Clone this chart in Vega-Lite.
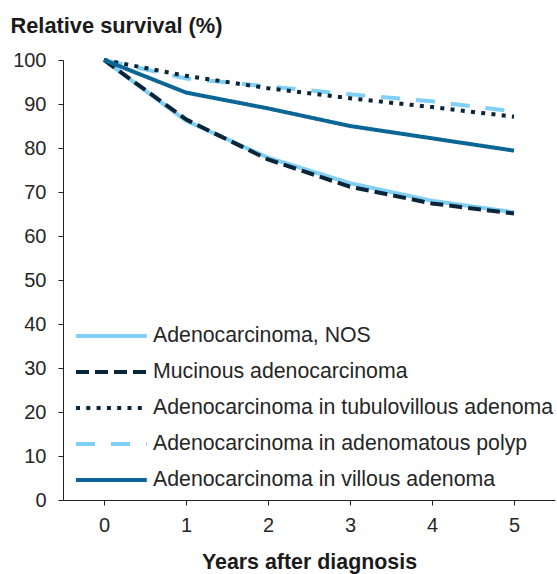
{
  "$schema": "https://vega.github.io/schema/vega-lite/v6.json",
  "width": 492,
  "height": 440,
  "autosize": "none",
  "padding": {"left": 63, "top": 60, "right": 2, "bottom": 74},
  "background": "white",
  "config": {
    "font": "Liberation Sans",
    "view": {"stroke": null},
    "axis": {"grid": false, "domainColor": "#222", "tickColor": "#222", "labelColor": "#262626", "titleColor": "#1a1a1a", "labelFont": "Liberation Sans", "titleFont": "Liberation Sans"},
    "legend": {"labelFont": "Liberation Sans"}
  },
  "data": {
    "values": [
      {"series": "Adenocarcinoma, NOS", "year": 0, "value": 100},
      {"series": "Adenocarcinoma, NOS", "year": 1, "value": 86.2},
      {"series": "Adenocarcinoma, NOS", "year": 2, "value": 77.8},
      {"series": "Adenocarcinoma, NOS", "year": 3, "value": 72.0},
      {"series": "Adenocarcinoma, NOS", "year": 4, "value": 68.0},
      {"series": "Adenocarcinoma, NOS", "year": 5, "value": 65.4},
      {"series": "Mucinous adenocarcinoma", "year": 0, "value": 100},
      {"series": "Mucinous adenocarcinoma", "year": 1, "value": 86.5},
      {"series": "Mucinous adenocarcinoma", "year": 2, "value": 77.4},
      {"series": "Mucinous adenocarcinoma", "year": 3, "value": 71.2},
      {"series": "Mucinous adenocarcinoma", "year": 4, "value": 67.4},
      {"series": "Mucinous adenocarcinoma", "year": 5, "value": 65.1},
      {"series": "Adenocarcinoma in adenomatous polyp", "year": 0, "value": 100},
      {"series": "Adenocarcinoma in adenomatous polyp", "year": 1, "value": 95.8},
      {"series": "Adenocarcinoma in adenomatous polyp", "year": 2, "value": 94.0},
      {"series": "Adenocarcinoma in adenomatous polyp", "year": 3, "value": 92.2},
      {"series": "Adenocarcinoma in adenomatous polyp", "year": 4, "value": 90.6},
      {"series": "Adenocarcinoma in adenomatous polyp", "year": 5, "value": 88.3},
      {"series": "Adenocarcinoma in tubulovillous adenoma", "year": 0, "value": 100},
      {"series": "Adenocarcinoma in tubulovillous adenoma", "year": 1, "value": 96.4},
      {"series": "Adenocarcinoma in tubulovillous adenoma", "year": 2, "value": 93.6},
      {"series": "Adenocarcinoma in tubulovillous adenoma", "year": 3, "value": 91.3},
      {"series": "Adenocarcinoma in tubulovillous adenoma", "year": 4, "value": 89.3},
      {"series": "Adenocarcinoma in tubulovillous adenoma", "year": 5, "value": 87.1},
      {"series": "Adenocarcinoma in villous adenoma", "year": 0, "value": 100},
      {"series": "Adenocarcinoma in villous adenoma", "year": 1, "value": 92.6},
      {"series": "Adenocarcinoma in villous adenoma", "year": 2, "value": 89.0},
      {"series": "Adenocarcinoma in villous adenoma", "year": 3, "value": 85.0},
      {"series": "Adenocarcinoma in villous adenoma", "year": 4, "value": 82.2},
      {"series": "Adenocarcinoma in villous adenoma", "year": 5, "value": 79.4}
    ]
  },
  "mark": {"type": "line", "strokeWidth": 4},
  "encoding": {
    "x": {
      "field": "year", "type": "quantitative",
      "scale": {"domain": [-0.5, 5.5], "nice": false, "zero": false},
      "axis": {
        "values": [0, 1, 2, 3, 4, 5], "tickSize": 5, "labelPadding": 10, "labelFontSize": 20,
        "title": "Years after diagnosis", "titleFontSize": 21.4, "titleFontWeight": "bold",
        "titleBaseline": "alphabetic", "titleY": 68
      }
    },
    "y": {
      "field": "value", "type": "quantitative",
      "scale": {"domain": [0, 100], "nice": false},
      "axis": {
        "values": [0, 10, 20, 30, 40, 50, 60, 70, 80, 90, 100], "tickSize": 5, "labelPadding": 12, "labelFontSize": 20,
        "title": "Relative survival (%)", "titleFontSize": 21.8, "titleFontWeight": "bold",
        "titleAngle": 0, "titleAlign": "left", "titleBaseline": "alphabetic", "titleX": -53, "titleY": -28
      }
    },
    "color": {
      "field": "series", "type": "nominal",
      "scale": {
        "domain": ["Adenocarcinoma, NOS", "Mucinous adenocarcinoma", "Adenocarcinoma in tubulovillous adenoma", "Adenocarcinoma in adenomatous polyp", "Adenocarcinoma in villous adenoma"],
        "range": ["#80CFF4", "#0B2538", "#0B2538", "#80CFF4", "#0B6695"]
      },
      "legend": {
        "title": null, "orient": "none", "legendX": 11, "legendY": 262, "padding": 0,
        "symbolType": "M-1,0H4.9", "symbolSize": 576, "symbolStrokeWidth": 4,
        "labelFontSize": 21.3, "labelOffset": 51, "labelColor": "#262626", "rowPadding": 11, "labelLimit": 0
      }
    },
    "strokeDash": {
      "field": "series", "type": "nominal",
      "scale": {
        "domain": ["Adenocarcinoma, NOS", "Mucinous adenocarcinoma", "Adenocarcinoma in tubulovillous adenoma", "Adenocarcinoma in adenomatous polyp", "Adenocarcinoma in villous adenoma"],
        "range": [[1, 0], [13, 6], [4, 6.3], [19, 16], [1, 0]]
      },
      "legend": null
    }
  }
}
